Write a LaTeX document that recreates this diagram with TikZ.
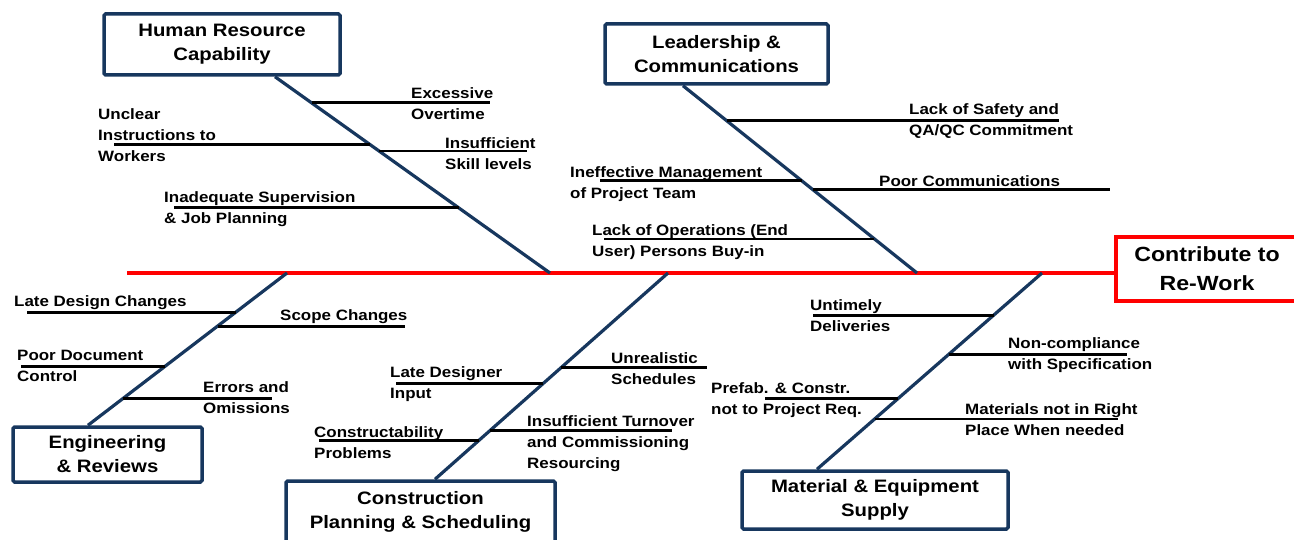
\documentclass[tikz,border=0pt]{standalone}
\usepackage{fontspec}
\setmainfont{Liberation Sans}[FakeStretch=1.13]
\usepackage{xcolor}
\usepackage{tikz}
\usetikzlibrary{positioning}
\definecolor{bonenavy}{RGB}{23,55,94}
\definecolor{spinered}{RGB}{255,0,0}
\tikzstyle{category} = [draw=bonenavy,line width=3.5pt,rounded corners=1.5pt,fill=white,align=center,inner sep=0pt,font=\fontsize{18}{24}\selectfont\bfseries]
\tikzstyle{effect} = [draw=spinered,line width=4pt,fill=white,align=center,inner sep=0pt,font=\fontsize{20.5}{29}\selectfont\bfseries]
\tikzstyle{spine} = [spinered,line width=4pt]
\tikzstyle{bone} = [bonenavy,line width=3.2pt]
\tikzstyle{cause} = [black,line width=2.8pt]
\tikzstyle{reason} = [align=left,anchor=north west,inner sep=0pt,font=\fontsize{15}{21}\selectfont\bfseries]

\begin{document}
\begin{tikzpicture}[x=1pt,y=-1pt]
\useasboundingbox (0,0) rectangle (1294,540);

\node[effect, minimum width=182, minimum height=64] (rework) at (1207,269) {Contribute to\\Re-Work};
\node[category, minimum width=236, minimum height=61] (human) at (222,44.5) {Human Resource\\Capability};
\node[category, minimum width=223, minimum height=60] (lead) at (716.5,54) {Leadership \&\\Communications};
\node[category, minimum width=189, minimum height=55] (eng) at (107.5,454.5) {Engineering\\\& Reviews};
\node[category, minimum width=269, minimum height=62] (constr) at (420.5,512) {Construction\\Planning \& Scheduling};
\node[category, minimum width=266, minimum height=58] (mat) at (875,500) {Material \& Equipment\\Supply};

\coordinate (tail) at (127,273);
\coordinate (humanEnd) at (550,273);
\coordinate (leadEnd) at (917,273);
\coordinate (engEnd) at (287,273);
\coordinate (constrEnd) at (668,273);
\coordinate (matEnd) at (1042,273);

\draw[spine] (tail) -- (tail -| rework.west);

\draw[bone] ([xshift=53pt]human.south) -- (humanEnd)
  coordinate[pos=.133] (h1) coordinate[pos=.347] (h2)
  coordinate[pos=.378] (h3) coordinate[pos=.668] (h4);
\draw[bone] ([xshift=-33.5pt]lead.south) -- (leadEnd)
  coordinate[pos=.187] (l1) coordinate[pos=.508] (l2)
  coordinate[pos=.556] (l3) coordinate[pos=.818] (l4);
\draw[bone] ([xshift=-19.5pt]eng.north) -- (engEnd)
  coordinate[pos=.743] (e1) coordinate[pos=.651] (e2)
  coordinate[pos=.388] (e3) coordinate[pos=.178] (e4);
\draw[bone] ([xshift=14.5pt]constr.north) -- (constrEnd)
  coordinate[pos=.541] (c1) coordinate[pos=.464] (c2)
  coordinate[pos=.237] (c3) coordinate[pos=.188] (c4);
\draw[bone] ([xshift=-58pt]mat.north) -- (matEnd)
  coordinate[pos=.785] (m1) coordinate[pos=.585] (m2)
  coordinate[pos=.359] (m3) coordinate[pos=.256] (m4);

\draw[cause] (h1) -- (490,0 |- h1);
\draw[cause] (h2) -- (114,0 |- h2);
\draw[cause] (h3) -- (527,0 |- h3);
\draw[cause] (h4) -- (174,0 |- h4);
\draw[cause] (l1) -- (1059,0 |- l1);
\draw[cause] (l2) -- (600,0 |- l2);
\draw[cause] (l3) -- (1110,0 |- l3);
\draw[cause] (l4) -- (604,0 |- l4);
\draw[cause] (e1) -- (27,0 |- e1);
\draw[cause] (e2) -- (405,0 |- e2);
\draw[cause] (e3) -- (21,0 |- e3);
\draw[cause] (e4) -- (272,0 |- e4);
\draw[cause] (c1) -- (707,0 |- c1);
\draw[cause] (c2) -- (396,0 |- c2);
\draw[cause] (c3) -- (672,0 |- c3);
\draw[cause] (c4) -- (319,0 |- c4);
\draw[cause] (m1) -- (813,0 |- m1);
\draw[cause] (m2) -- (1127,0 |- m2);
\draw[cause] (m3) -- (765,0 |- m3);
\draw[cause] (m4) -- (1118,0 |- m4);

\node[reason] (overtime) at (411,87) {Excessive\\Overtime};
\node[reason] (instruct) at (98,108) {Unclear\\Instructions to\\Workers};
\node[reason] (skill) at (445,137) {Insufficient\\Skill levels};
\node[reason] (supervise) at (164,191) {Inadequate Supervision\\\& Job Planning};
\node[reason] (safety) at (909,103) {Lack of Safety and\\QA/QC Commitment};
\node[reason] (manage) at (570,166) {Ineffective Management\\of Project Team};
\node[reason] (comms) at (879,175) {Poor Communications};
\node[reason] (buyin) at (592,224) {Lack of Operations (End\\User) Persons Buy-in};
\node[reason] (design) at (14,295) {Late Design Changes};
\node[reason] (scope) at (280,309) {Scope Changes};
\node[reason] (docs) at (17,350) {Poor Document\\Control};
\node[reason] (errors) at (203,381) {Errors and\\Omissions};
\node[reason] (designer) at (390,366) {Late Designer\\Input};
\node[reason] (schedule) at (611,352) {Unrealistic\\Schedules};
\node[reason] (buildable) at (314,426) {Constructability\\Problems};
\node[reason] (turnover) at (527,415) {Insufficient Turnover\\and Commissioning\\Resourcing};
\node[reason] (delivery) at (810,299) {Untimely\\Deliveries};
\node[reason] (spec) at (1008,337) {Non-compliance\\with Specification};
\node[reason] (prefab) at (711,382) {Prefab. \& Constr.\\not to Project Req.};
\node[reason] (place) at (965,403) {Materials not in Right\\Place When needed};
\end{tikzpicture}
\end{document}
